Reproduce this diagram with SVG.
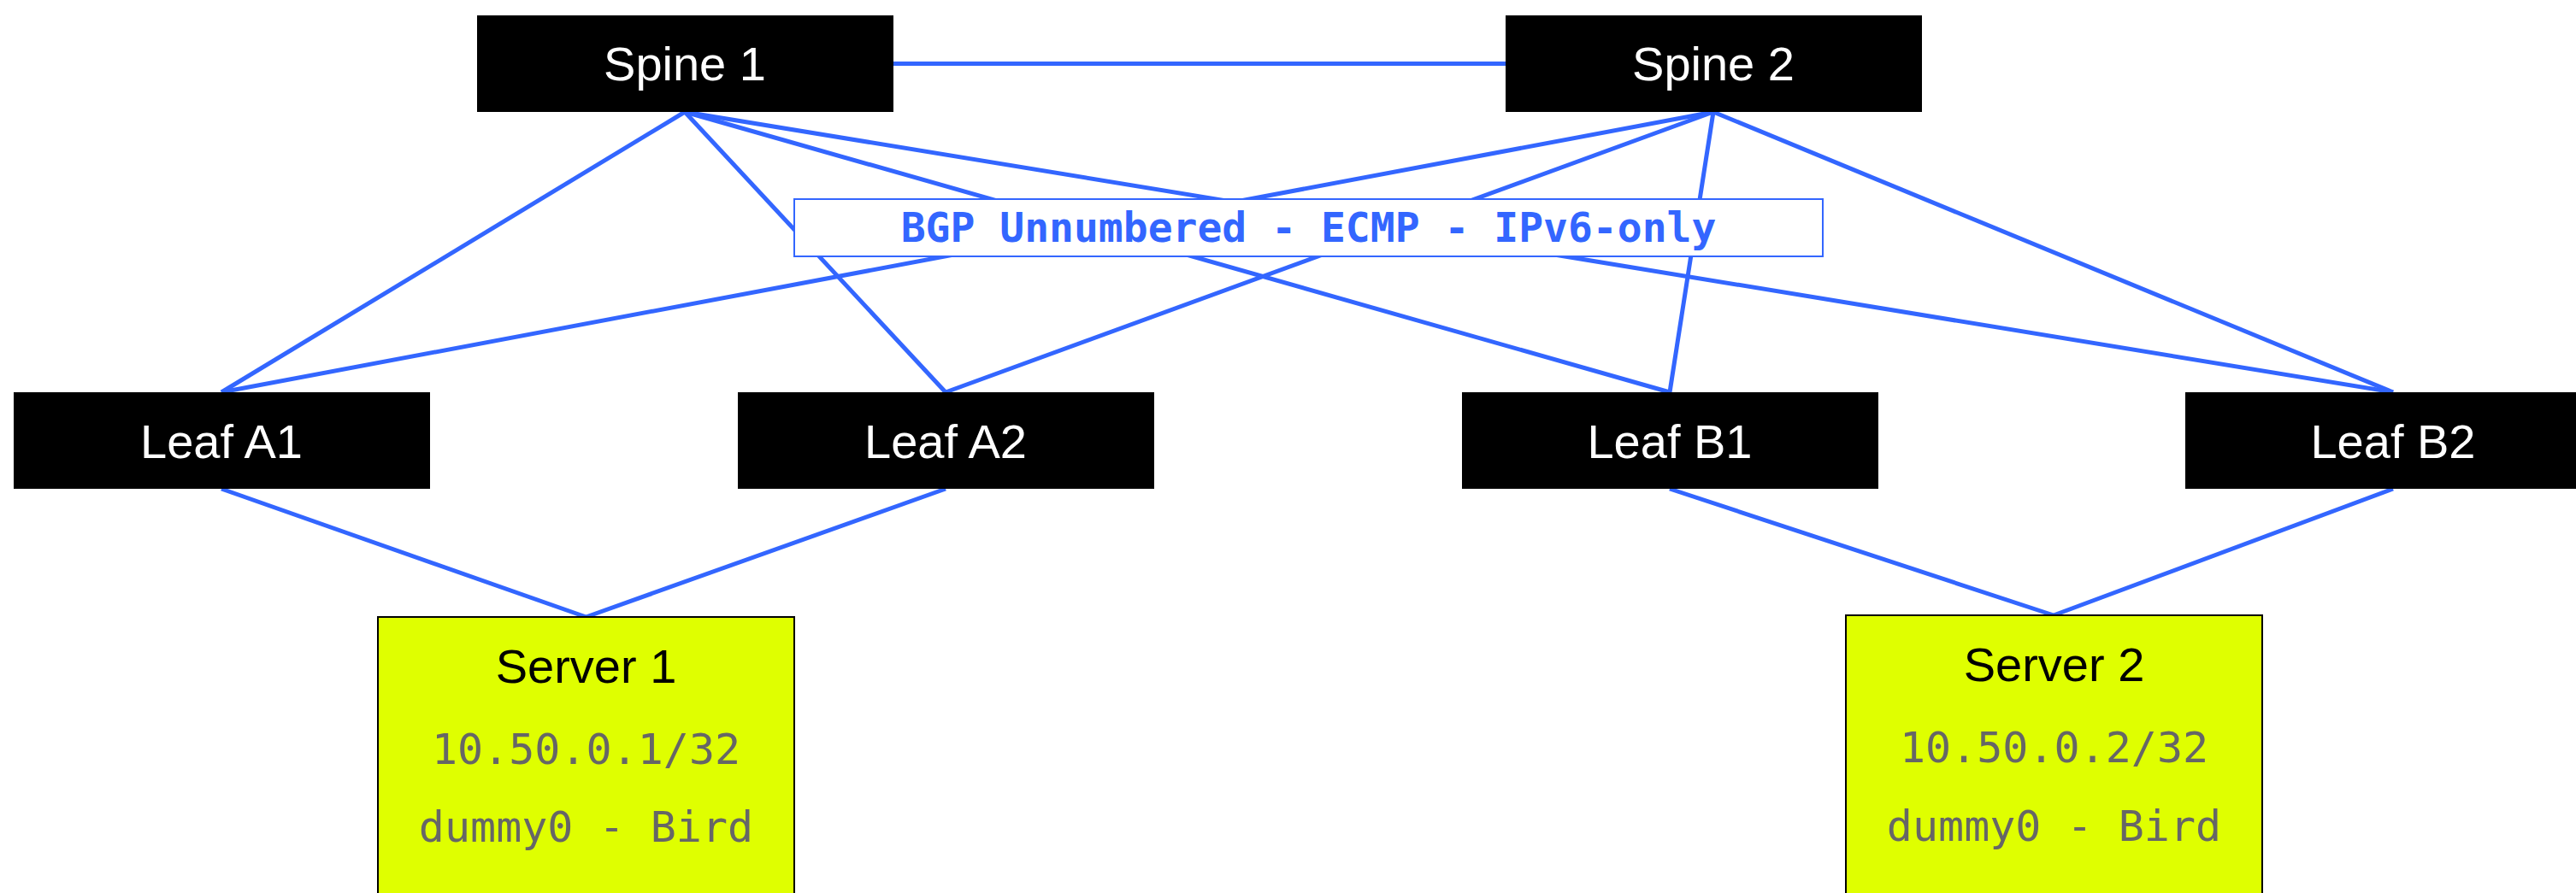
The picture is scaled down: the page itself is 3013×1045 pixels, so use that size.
<svg xmlns="http://www.w3.org/2000/svg" width="3013" height="1045" viewBox="0 0 3013 1045">
  <style>
    .link { stroke: #3366ff; stroke-width: 5; fill: none; stroke-linecap: butt; }
    .switch rect { fill: #000000; }
    .switch text { fill: #ffffff; font-family: "Liberation Sans", Arial, sans-serif; font-size: 56px; text-anchor: middle; }
    .server rect { fill: #dfff00; stroke: #000000; stroke-width: 2; }
    .server .name { fill: #000000; font-family: "Liberation Sans", Arial, sans-serif; font-size: 56px; text-anchor: middle; }
    .server .detail { fill: #666666; font-family: "DejaVu Sans Mono", "Liberation Mono", monospace; font-size: 50px; text-anchor: middle; }
    .banner rect { fill: #ffffff; stroke: #3366ff; stroke-width: 2; }
    .banner text { fill: #3366ff; font-family: "DejaVu Sans Mono", "Liberation Mono", monospace; font-size: 48px; font-weight: bold; text-anchor: middle; }
  </style>

  <rect width="3013" height="1045" fill="#ffffff"/>

  <!-- links -->
  <g id="connectors">
    <line class="link" x1="1044" y1="74.5" x2="1761" y2="74.5"/>
    <!-- spine 1 to leaves -->
    <line class="link" x1="801" y1="131" x2="259" y2="459"/>
    <line class="link" x1="801" y1="131" x2="1106" y2="459"/>
    <line class="link" x1="801" y1="131" x2="1953" y2="459"/>
    <line class="link" x1="801" y1="131" x2="2799" y2="459"/>
    <!-- spine 2 to leaves -->
    <line class="link" x1="2004" y1="131" x2="259" y2="459"/>
    <line class="link" x1="2004" y1="131" x2="1106" y2="459"/>
    <line class="link" x1="2004" y1="131" x2="1953" y2="459"/>
    <line class="link" x1="2004" y1="131" x2="2799" y2="459"/>
    <!-- leaves to servers -->
    <line class="link" x1="259" y1="572" x2="685.5" y2="722"/>
    <line class="link" x1="1106" y1="572" x2="685.5" y2="722"/>
    <line class="link" x1="1953" y1="572" x2="2402" y2="720"/>
    <line class="link" x1="2799" y1="572" x2="2402" y2="720"/>
  </g>

  <g id="fabric-label" class="banner">
    <rect x="929" y="233" width="1203" height="67"/>
    <text x="1530.5" y="283">BGP Unnumbered - ECMP - IPv6-only</text>
  </g>

  <g id="spine1" class="switch">
    <rect x="558" y="18" width="487" height="113"/>
    <text x="801" y="94">Spine 1</text>
  </g>
  <g id="spine2" class="switch">
    <rect x="1761" y="18" width="487" height="113"/>
    <text x="2004" y="94">Spine 2</text>
  </g>

  <g id="leafA1" class="switch">
    <rect x="16" y="459" width="487" height="113"/>
    <text x="259" y="536">Leaf A1</text>
  </g>
  <g id="leafA2" class="switch">
    <rect x="863" y="459" width="487" height="113"/>
    <text x="1106" y="536">Leaf A2</text>
  </g>
  <g id="leafB1" class="switch">
    <rect x="1710" y="459" width="487" height="113"/>
    <text x="1953" y="536">Leaf B1</text>
  </g>
  <g id="leafB2" class="switch">
    <rect x="2556" y="459" width="487" height="113"/>
    <text x="2799" y="536">Leaf B2</text>
  </g>

  <g id="server1" class="server">
    <rect x="442" y="722" width="487" height="400"/>
    <text class="name" x="685.5" y="799">Server 1</text>
    <text class="detail" x="685.5" y="894">10.50.0.1/32</text>
    <text class="detail" x="685.5" y="985">dummy0 - Bird</text>
  </g>
  <g id="server2" class="server">
    <rect x="2159" y="720" width="487" height="400"/>
    <text class="name" x="2402.5" y="797">Server 2</text>
    <text class="detail" x="2402.5" y="892">10.50.0.2/32</text>
    <text class="detail" x="2402.5" y="984">dummy0 - Bird</text>
  </g>
</svg>
